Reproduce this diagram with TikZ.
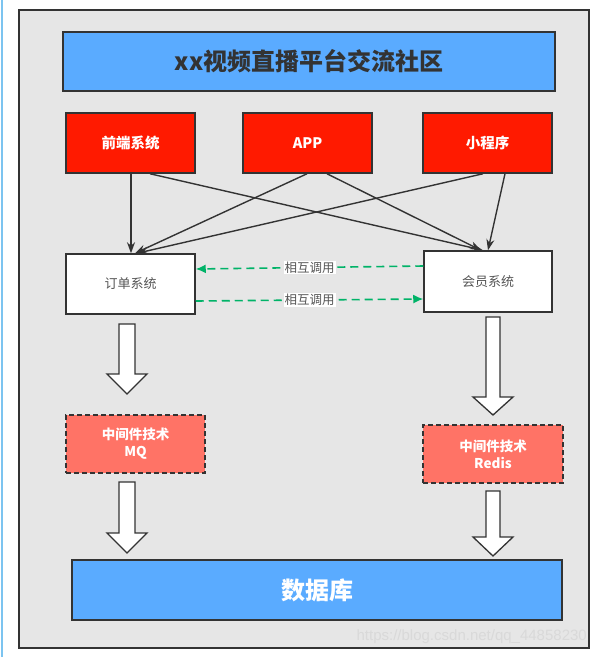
\documentclass[tikz,border=0pt]{standalone}
\usepackage{fontspec}
\setmainfont{Noto Sans CJK SC}
\newfontfamily\wmfont{Liberation Sans}
\usetikzlibrary{arrows.meta}
\definecolor{bggray}{HTML}{E6E6E6}
\definecolor{edge}{HTML}{333333}
\definecolor{skyblue}{HTML}{5AABFF}
\definecolor{redbox}{HTML}{FF1A00}
\definecolor{salmon}{HTML}{FF7366}
\definecolor{greenln}{HTML}{00B368}
\definecolor{txtgray}{HTML}{555555}
\definecolor{leftblue}{HTML}{7CC4F0}
\tikzset{
  box/.style={draw=edge, line width=1.5pt, inner sep=0pt, align=center},
  bluebox/.style={box, fill=skyblue, minimum height=59pt},
  redsq/.style={box, fill=redbox, minimum width=129pt, minimum height=60pt,
     text=white, font=\fontsize{14.5}{17}\selectfont\bfseries},
  whitebox/.style={box, fill=white, text=txtgray, font=\fontsize{13}{16}\selectfont},
  midbox/.style={box, dashed, dash pattern=on 5pt off 3pt, fill=salmon, text=white,
     font=\fontsize{13.5}{17}\selectfont\bfseries},
  link/.style={draw=edge, line width=1.4pt, -{Stealth[length=11pt,width=8pt]}},
  callarrow/.style={draw=greenln, line width=1.6pt, dash pattern=on 8pt off 5pt,
     -{Latex[length=10pt,width=9pt]}},
  calllabel/.style={fill=white, inner sep=1pt, text=txtgray, font=\fontsize{12.5}{15}\selectfont},
  hollow/.style={draw=edge, line width=1.3pt, fill=white, line join=miter}
}
\newcommand{\hollowarrow}[6]{% x, top, headstart, tip, shaft half, head half
  \draw[hollow] (#1-#5,#2) -- (#1+#5,#2) -- (#1+#5,#3) -- (#1+#6,#3) -- (#1,#4)
     -- (#1-#6,#3) -- (#1-#5,#3) -- cycle;}
\begin{document}
\begin{tikzpicture}[x=1pt,y=-1pt]
\useasboundingbox (0,0) rectangle (598,657);
\fill[white] (0,0) rectangle (598,657);
\draw[leftblue, line width=2pt] (1.5,0) -- (1.5,657);
% background frame
\node[draw=edge, line width=1.5pt, fill=bggray, minimum width=570pt, minimum height=638pt, inner sep=0pt]
  (frame) at (304,329) {};
% title
\node[bluebox, minimum width=492pt, text=edge, font=\fontsize{24}{28}\selectfont\bfseries]
  (title) at (309,61.5) {xx视频直播平台交流社区};
% clients
\node[redsq] (fe)   at (130.5,143) {前端系统};
\node[redsq] (app)  at (307.5,143) {APP};
\node[redsq] (mini) at (487.5,143) {小程序};
% systems
\node[whitebox, minimum width=129pt, minimum height=60pt] (ord) at (130.5,284) {订单系统};
\node[whitebox, minimum width=128pt, minimum height=61pt] (mem) at (488,281.5) {会员系统};
% links
\draw[link] (fe.south -| 131,0) -- (ord.north -| 131,0);
\draw[link] (fe.south -| 150,0) -- (mem.north -| 483,0);
\draw[link] (app.south -| 307,0) -- (ord.north -| 135,0);
\draw[link] (app.south -| 327,0) -- (mem.north -| 481,0);
\draw[link] (mini.south -| 483,0) -- (ord.north -| 137,0);
\draw[link] (mini.south -| 505,0) -- (mem.north -| 488,0);
% mutual calls
\draw[callarrow] (mem.west |- 0,266) -- node[calllabel, pos=0.5] (lab1) {相互调用} (ord.east |- 0,269);
\draw[callarrow] (ord.east |- 0,301) -- node[calllabel, pos=0.5] (lab2) {相互调用} (mem.west |- 0,299);
% middleware
\node[midbox, minimum width=139pt, minimum height=58pt] (mq) at (135.5,444) {中间件技术\\MQ};
\node[midbox, minimum width=140pt, minimum height=58pt] (redis) at (493,454) {中间件技术\\Redis};
% database
\node[bluebox, minimum width=490pt, minimum height=60pt, text=white, font=\fontsize{24}{28}\selectfont\bfseries]
  (db) at (317,590) {数据库};
% hollow arrows
\hollowarrow{127}{324}{374}{394}{8}{20}
\hollowarrow{127}{482}{533}{553}{8}{20}
\hollowarrow{493}{317}{397}{415}{7}{20}
\hollowarrow{493}{491}{537}{556}{7}{20}
% watermark
\node[text=white!70!gray, font=\wmfont\fontsize{15}{18}\selectfont, anchor=east, inner sep=0pt]
  (wm) at (587,637) {https://blog.csdn.net/qq\_44858230};
\end{tikzpicture}
\end{document}
